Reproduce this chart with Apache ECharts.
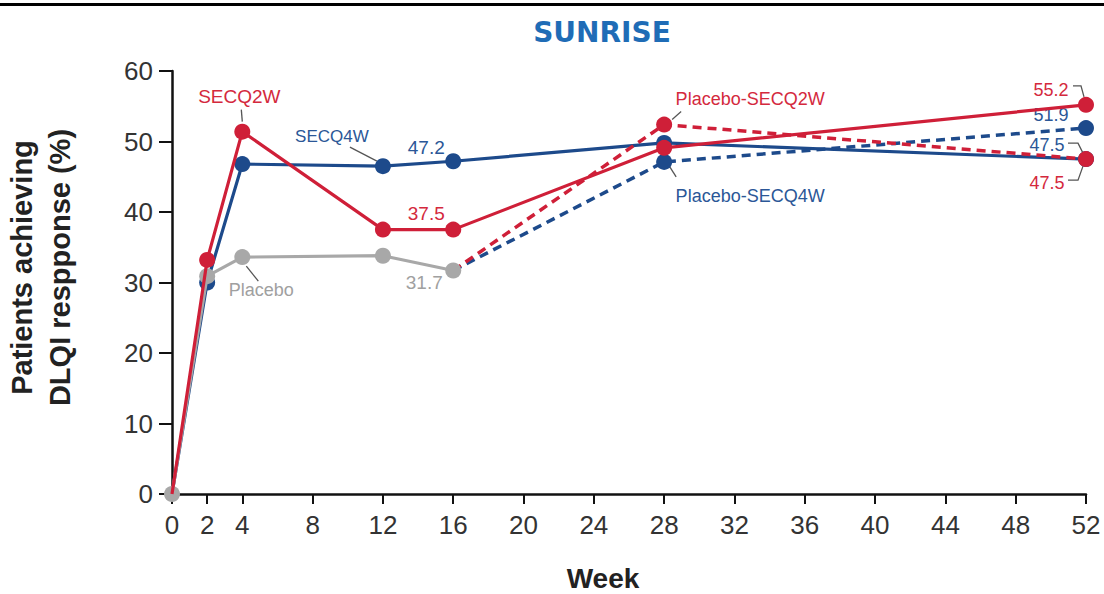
<!DOCTYPE html>
<html>
<head>
<meta charset="utf-8">
<script src="https://cdn.jsdelivr.net/npm/echarts@6/dist/echarts.min.js"></script>
<style>
html,body{margin:0;padding:0;background:#fff;}
#chart{width:1104px;height:594px;}
</style>
</head>
<body>
<div id="chart"></div>
<script>
// ---- data ----
var weeksMain = [0, 2, 4, 12, 16, 28, 52];
var secq2w = [0, 33.2, 51.4, 37.5, 37.5, 49.1, 55.2];
var secq4w = [0, 30.0, 46.8, 46.5, 47.2, 49.8, 47.5];
var weeksPlacebo = [0, 2, 4, 12, 16];
var placebo = [0, 30.9, 33.6, 33.8, 31.7];
var weeksSwitch = [16, 28, 52];
var placeboSecq2w = [31.7, 52.4, 47.5];
var placeboSecq4w = [31.7, 47.1, 51.9];
var xTicks = [0, 2, 4, 8, 12, 16, 20, 24, 28, 32, 36, 40, 44, 48, 52];

var RED = '#cf1f38', BLUE = '#1d4a8b', GRAY = '#a8a8a8';

// annotations: series, point index, text, label offset, leader polyline (pixel offsets from point)
var annotations = [
  {series: 'SECQ2W', idx: 2, text: 'SECQ2W', color: '#d4293d', size: 19, off: [-3, -35], leader: [[-1, -22], [0, -10]]},
  {series: 'SECQ4W', idx: 3, text: 'SECQ4W', color: '#2b5797', size: 17, off: [-51, -30], leader: [[-33, -19], [-6, -5]]},
  {series: 'SECQ4W', idx: 4, text: '47.2', color: '#2b5797', size: 19, off: [-27, -14]},
  {series: 'SECQ2W', idx: 4, text: '37.5', color: '#d4293d', size: 19, off: [-27, -16]},
  {series: 'Placebo', idx: 4, text: '31.7', color: '#a0a0a0', size: 19, off: [-29, 12]},
  {series: 'Placebo', idx: 2, text: 'Placebo', color: '#a0a0a0', size: 18, off: [19, 33], leader: [[4, 9], [16, 24]]},
  {series: 'Placebo-SECQ2W', idx: 1, text: 'Placebo-SECQ2W', color: '#d4293d', size: 18, off: [86, -26], leader: [[8, -5], [17, -13]]},
  {series: 'Placebo-SECQ4W', idx: 1, text: 'Placebo-SECQ4W', color: '#2b5797', size: 18, off: [86, 34], leader: [[5, 4], [12, 15]]},
  {series: 'SECQ2W', idx: 6, text: '55.2', color: '#d4293d', size: 18, off: [-35, -15], leader: [[-13, -19], [-5, -19], [-2, -8]]},
  {series: 'Placebo-SECQ4W', idx: 2, text: '51.9', color: '#2b5797', size: 18, off: [-35, -13]},
  {series: 'SECQ4W', idx: 6, text: '47.5', color: '#2b5797', size: 18, off: [-39, -14], leader: [[-18, -16], [-8, -16], [-3, -6]]},
  {series: 'Placebo-SECQ2W', idx: 2, text: '47.5', color: '#d4293d', size: 18, off: [-39, 24], leader: [[-18, 21], [-8, 21], [-3, 7]]}
];

var LABEL_FONT = '"Liberation Sans", Arial, sans-serif';
var TICK_FONT = '"Liberation Sans Narrow", "Arial Narrow", "Liberation Sans", Arial, sans-serif';

function buildData(name, xs, ys, hideFirst) {
  return xs.map(function (x, i) {
    var item = {value: [x, ys[i]]};
    if (hideFirst && i === 0) { item.symbol = 'none'; }
    annotations.forEach(function (a) {
      if (a.series === name && a.idx === i) {
        item.label = {
          show: true, position: 'inside', offset: a.off, formatter: a.text,
          color: a.color, fontSize: a.size, fontFamily: LABEL_FONT
        };
      }
    });
    return item;
  });
}

function lineSeries(name, xs, ys, color, dashed, hideFirst, z) {
  return {
    name: name, type: 'line', z: z,
    data: buildData(name, xs, ys, hideFirst),
    symbol: 'circle', symbolSize: 16,
    itemStyle: {color: color},
    lineStyle: {color: color, width: dashed ? 3.5 : 3.2, type: dashed ? [9, 6] : 'solid'},
    label: {show: false},
    emphasis: {disabled: true},
    animation: false
  };
}

var chart = echarts.init(document.getElementById('chart'), null, {renderer: 'svg'});
var option = {
  backgroundColor: '#fff',
  animation: false,
  title: {
    text: 'SUNRISE', left: 597, top: 13, textAlign: 'center',
    textStyle: {color: '#1f6cb6', fontSize: 28, fontWeight: 'bold', fontFamily: '"DejaVu Sans", sans-serif'}
  },
  grid: {left: 172, right: 18, top: 71, bottom: 100, outerBoundsMode: 'none', containLabel: false},
  xAxis: {
    type: 'value', min: 0, max: 52, interval: 4,
    name: 'Week', nameLocation: 'middle', nameGap: 70,
    nameTextStyle: {color: '#222', fontSize: 28, fontWeight: 'bold', fontFamily: LABEL_FONT, padding: [0, 52, 0, 0]},
    axisLine: {lineStyle: {color: '#111', width: 2.5}},
    axisTick: {show: true, length: 10, lineStyle: {color: '#111', width: 2}, customValues: xTicks},
    axisLabel: {margin: 18, color: '#333', fontSize: 26, fontFamily: TICK_FONT, customValues: xTicks},
    splitLine: {show: false}
  },
  yAxis: {
    type: 'value', min: 0, max: 60, interval: 10,
    name: 'Patients achieving\nDLQI respponse (%)', nameLocation: 'middle', nameGap: 93, nameRotate: 90,
    nameTextStyle: {color: '#222', fontSize: 29, fontWeight: 'bold', fontFamily: LABEL_FONT, lineHeight: 38, padding: [0, 0, 0, 30]},
    axisLine: {show: true, lineStyle: {color: '#111', width: 2.5}},
    axisTick: {show: true, length: 13, lineStyle: {color: '#111', width: 2}},
    axisLabel: {margin: 19, color: '#333', fontSize: 26, fontFamily: TICK_FONT},
    splitLine: {show: false}
  },
  series: [
    lineSeries('SECQ4W', weeksMain, secq4w, BLUE, false, true, 2),
    lineSeries('Placebo-SECQ4W', weeksSwitch, placeboSecq4w, BLUE, true, true, 3),
    lineSeries('Placebo-SECQ2W', weeksSwitch, placeboSecq2w, RED, true, true, 4),
    lineSeries('Placebo', weeksPlacebo, placebo, GRAY, false, false, 5),
    lineSeries('SECQ2W', weeksMain, secq2w, RED, false, true, 6)
  ],
  graphic: [
    {type: 'rect', shape: {x: 0, y: 3, width: 1104, height: 3}, style: {fill: '#000'}, z: 100}
  ]
};
chart.setOption(option);

// leader lines, anchored to data points via the chart's own scales
var seriesData = {
  'SECQ2W': [weeksMain, secq2w],
  'SECQ4W': [weeksMain, secq4w],
  'Placebo': [weeksPlacebo, placebo],
  'Placebo-SECQ2W': [weeksSwitch, placeboSecq2w],
  'Placebo-SECQ4W': [weeksSwitch, placeboSecq4w]
};
var leaders = [];
annotations.forEach(function (a) {
  if (!a.leader) return;
  var d = seriesData[a.series];
  var p = chart.convertToPixel({gridIndex: 0}, [d[0][a.idx], d[1][a.idx]]);
  leaders.push({
    type: 'polyline', z: 1,
    shape: {points: a.leader.map(function (o) { return [p[0] + o[0], p[1] + o[1]]; })},
    style: {stroke: '#555', lineWidth: 1.3, fill: null}
  });
});
chart.setOption({graphic: option.graphic.concat(leaders)});
</script>
</body>
</html>
